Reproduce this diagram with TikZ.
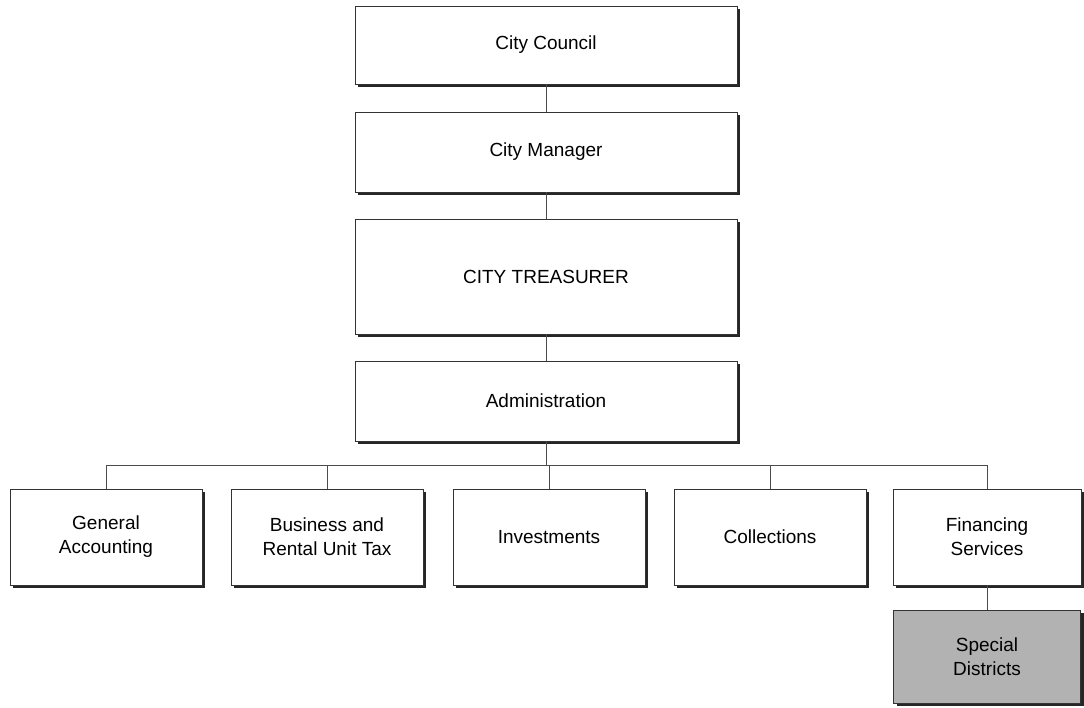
\documentclass[tikz,border=0pt]{standalone}
\usepackage{fontspec}
\setmainfont{Liberation Sans}
\usetikzlibrary{shadows}

\tikzset{
  unit/.style={draw=black!80,line width=0.8pt,fill=white,align=center,
    minimum width=382pt,minimum height=80pt,inner sep=2pt,
    general shadow={fill=black!85,shadow xshift=3pt,shadow yshift=-3pt}},
  dept/.style={unit,minimum width=192pt,minimum height=96pt},
  shaded/.style={dept,fill=black!30},
  link/.style={draw=black!70,line width=0.9pt}
}

\begin{document}
\begin{tikzpicture}[x=1pt,y=-1pt,font=\fontsize{19}{24}\selectfont]
\useasboundingbox (0,0) rectangle (1084,708);
% top chain
\node[unit,minimum height=78pt] (council) at (546,45) {City Council};
\node[unit] (manager) at (546,152) {City Manager};
\node[unit,minimum height=115pt] (treasurer) at (546,276.5) {CITY TREASURER};
\node[unit] (admin) at (546,401) {Administration};
% divisions
\node[dept] (genacct) at (106,537) {General\\Accounting};
\node[dept] (busrent) at (327,537) {Business and\\Rental Unit Tax};
\node[dept] (invest) at (549,537) {Investments};
\node[dept] (collect) at (770,537) {Collections};
\node[dept,minimum width=188pt] (finance) at (987,537) {Financing\\Services};
\node[shaded,minimum width=187pt,minimum height=93pt] (special) at (987,656.5) {Special\\Districts};
\coordinate (bus) at (546,465);
% connectors
\draw[link] (council) -- (manager);
\draw[link] (manager) -- (treasurer);
\draw[link] (treasurer) -- (admin);
\draw[link] (admin) -- (bus);
\draw[link] (genacct.north |- bus) -- (finance.north |- bus);
\foreach \d in {genacct,busrent,invest,collect,finance}
  \draw[link] (\d.north |- bus) -- (\d.north);
\draw[link] (finance) -- (special);
\end{tikzpicture}
\end{document}
